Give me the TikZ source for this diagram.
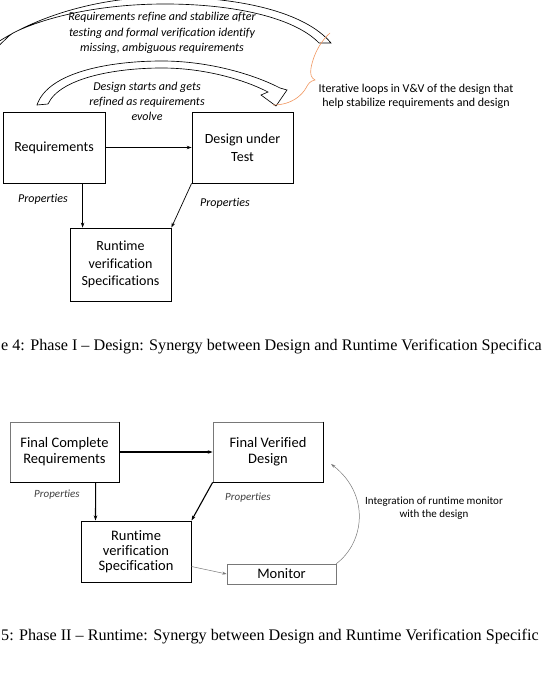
\documentclass[tikz,border=0pt]{standalone}
\usepackage{fontspec}
\setmainfont{Carlito}[Ligatures=NoCommon]
\newfontfamily\capfont{Liberation Serif}
\usetikzlibrary{arrows.meta}
\definecolor{bracecol}{RGB}{240,150,95}
\definecolor{edgegray}{RGB}{120,120,120}

\begin{document}
\begin{tikzpicture}[x=1pt,y=-1pt,
  stepbox/.style={draw=black, line width=0.8pt, align=center, inner sep=0pt,
    font=\fontsize{14}{17.5}\selectfont},
  finalbox/.style={draw=edgegray, line width=0.7pt, align=center, inner sep=0pt,
    font=\fontsize{14.5}{16}\selectfont},
  link/.style={draw=black, line width=0.7pt, -{Stealth[length=5pt,width=3.5pt]}},
  boldlink/.style={draw=black, line width=1.1pt, -{Stealth[length=5pt,width=3.5pt]}},
  thinlink/.style={draw=edgegray, line width=0.5pt, -{Stealth[length=4.5pt,width=3pt]}},
  note/.style={font=\itshape\fontsize{12}{15.5}\selectfont, align=center, inner sep=0pt},
  prop/.style={font=\itshape\fontsize{12}{14}\selectfont, inner sep=0pt},
  prop2/.style={font=\itshape\fontsize{11}{13}\selectfont, text=black!75, inner sep=0pt},
  blockarrow/.style={draw=black, line width=0.65pt, fill=white, line join=miter},
  caption/.style={font=\capfont\fontsize{16.15}{19}\selectfont, anchor=base west, inner sep=0pt}
]
\useasboundingbox (0,0) rectangle (546,687);
\clip (0,0) rectangle (546,687);

% ---------- Phase I ----------
% wide feedback arrow: from the design back to the requirements
\path[blockarrow]
  (331,43) .. controls (305,12) and (240,-3) .. (165,-3)
  .. controls (95,-3) and (35,18) .. (-2,42)
  -- (-6,38) -- (-12,56) -- (9,36) -- (13,33)
  .. controls (45,17) and (100,4) .. (165,4)
  .. controls (235,4) and (295,18) .. (319,43) -- cycle;

% inner arrow: from the requirements to the design
\path[blockarrow]
  (37,105) .. controls (48,72) and (110,61) .. (162,61)
  .. controls (210,61) and (255,75) .. (280,88)
  -- (287,90) -- (276,106) -- (261,95) -- (268,92)
  .. controls (245,80) and (205,68) .. (162,68)
  .. controls (115,68) and (60,78) .. (48,104) -- cycle;

\node[note] (loopout) at (162,33)
  {Requirements refine and stabilize after\\testing and formal verification identify\\missing, ambiguous requirements};
\node[note, font=\itshape\fontsize{12}{15}\selectfont] (loopin) at (147,101)
  {Design starts and gets\\refined as requirements\\evolve};

% brace grouping the two loops
\draw[bracecol, line width=0.6pt]
  (273,105) .. controls (292,105) and (302,95) .. (306,88)
  .. controls (308,84) and (310,81) .. (315,80)
  .. controls (311,78) and (310,74) .. (311,68)
  .. controls (314,52) and (322,40) .. (330,33);
\node[font=\fontsize{12}{14}\selectfont, align=center, inner sep=0pt] (loopnote) at (416,96)
  {Iterative loops in V\&V of the design that\\help stabilize requirements and design};

\node[stepbox, minimum width=102pt, minimum height=71pt] (req) at (54,147.5) {Requirements};
\node[stepbox, minimum width=101pt, minimum height=71pt] (dut) at (242.5,147.5) {Design under\\Test};
\node[stepbox, minimum width=101pt, minimum height=73pt] (rvs) at (120.5,264.5) {Runtime\\verification\\Specifications};

\draw[link] (req.east) -- (dut.west);
\draw[link] ([xshift=80pt]req.south west) -- ([xshift=13pt]rvs.north west);
\draw[link] (dut.south west) -- (rvs.north east);
\node[prop] (p1) at (43,199) {Properties};
\node[prop] (p2) at (225,203) {Properties};

\node[caption] (cap1) at (1,350)
  {e 4: Phase I – Design: Synergy between Design and Runtime Verification Specifica};

% ---------- Phase II ----------
\node[finalbox, minimum width=109pt, minimum height=60pt] (fcr) at (64.5,452) {Final Complete\\Requirements};
\node[finalbox, minimum width=110pt, minimum height=60pt] (fvd) at (268,452) {Final Verified\\Design};
\node[finalbox, draw=black, line width=1pt, minimum width=110pt, minimum height=61pt,
  font=\fontsize{14.5}{15}\selectfont] (rv2) at (136,551.5) {Runtime\\verification\\Specification};
\node[finalbox, minimum width=109pt, minimum height=20pt] (mon) at (281.5,574) {Monitor};

% darker right and bottom edges
\draw[black, line width=1.1pt] (fcr.north east) -- (fcr.south east) -- (fcr.south west);
\draw[black, line width=1.1pt] (fvd.north east) -- (fvd.south east) -- (fvd.south west);

\draw[boldlink] (fcr.east) -- (fvd.west);
\draw[boldlink] ([xshift=86pt]fcr.south west) -- ([xshift=15pt]rv2.north west);
\draw[boldlink] (fvd.south west) -- (rv2.north east);
\draw[thinlink] ([yshift=16pt]rv2.south east) -- (mon.west);

\coordinate (fvdin) at (331,464);
\draw[thinlink] (mon.north east) .. controls (365,542) and (370,494) .. (fvdin);

\node[prop2] (p3) at (57,495) {Properties};
\node[prop2] (p4) at (248,498) {Properties};
\node[font=\fontsize{11}{12.5}\selectfont, align=center, inner sep=0pt] (integ) at (434,508)
  {Integration of runtime monitor\\with the design};

\node[caption] (cap2) at (1,640)
  {5: Phase II – Runtime: Synergy between Design and Runtime Verification Specific};

\end{tikzpicture}
\end{document}
